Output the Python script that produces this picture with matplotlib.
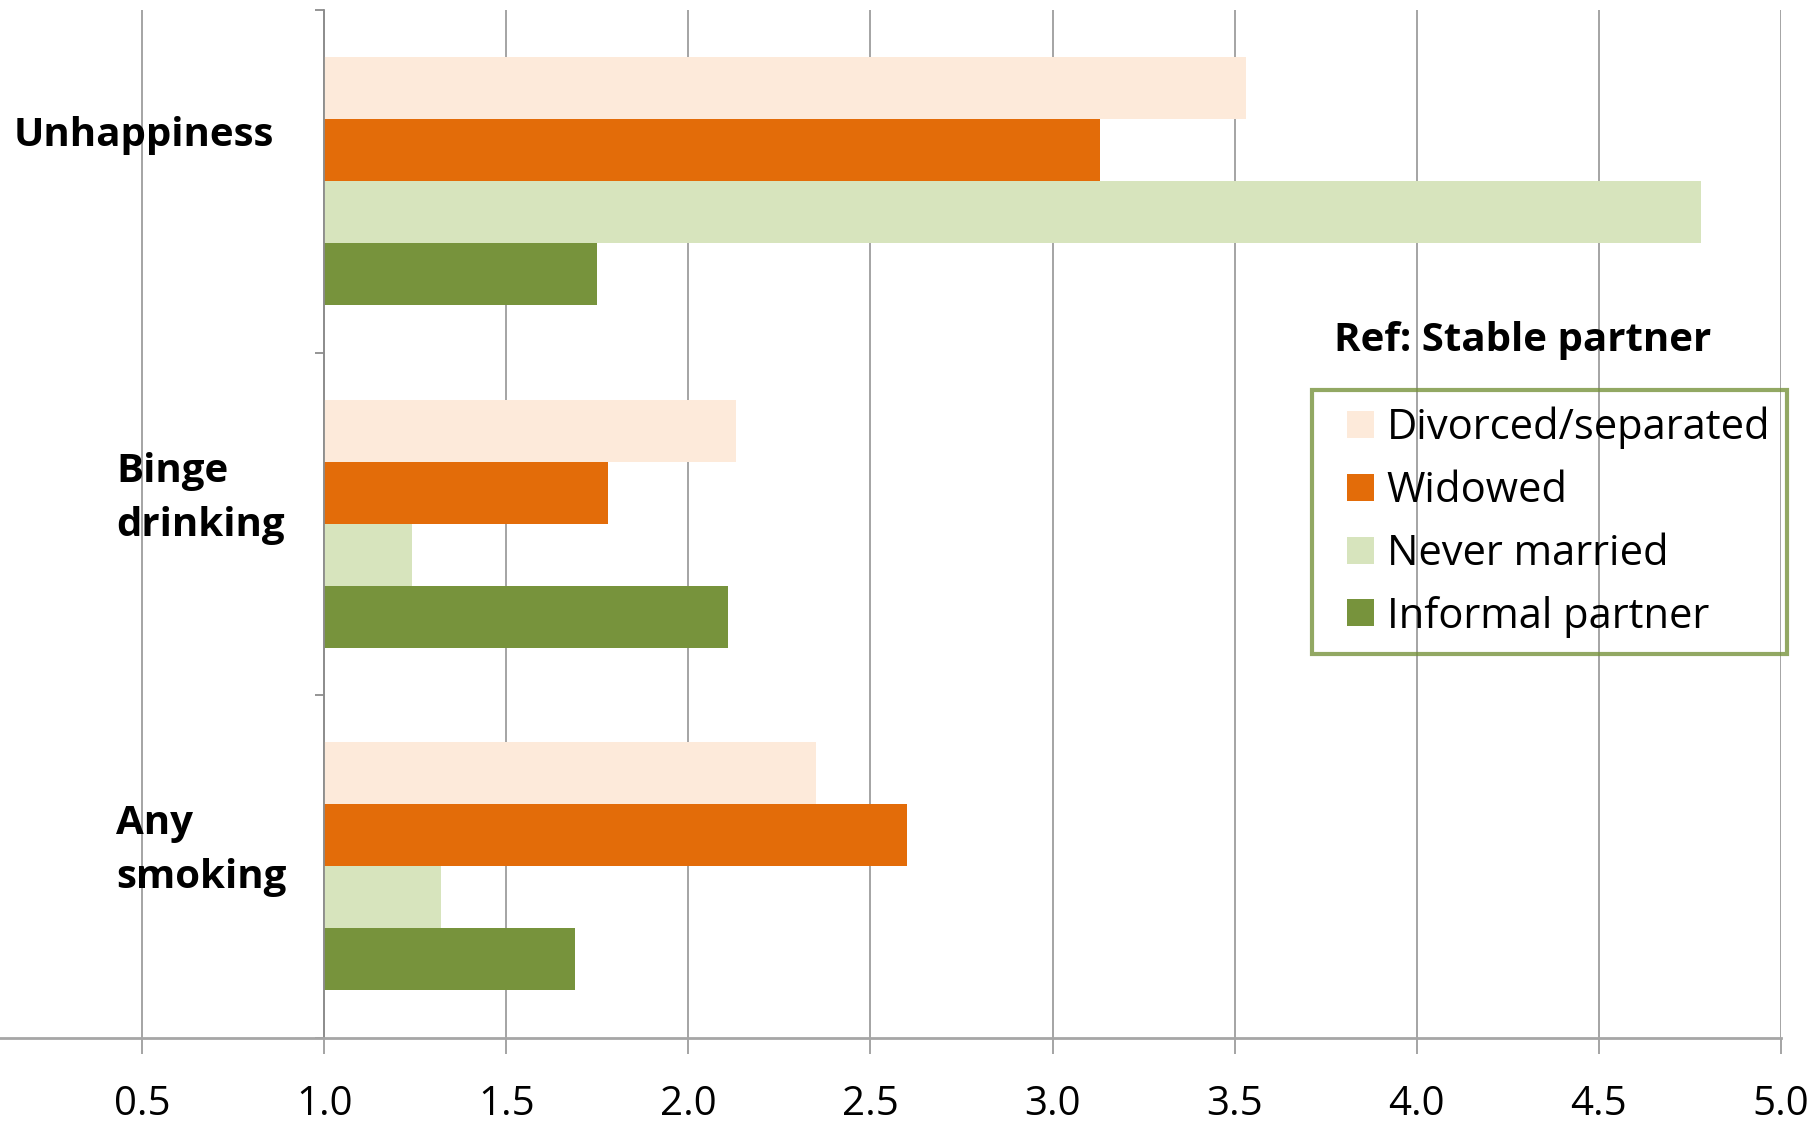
import numpy as np
import matplotlib
matplotlib.use('Agg')
import matplotlib.pyplot as plt
from matplotlib.patches import Patch, Rectangle
from matplotlib.legend_handler import HandlerPatch
import matplotlib.transforms as mtransforms

plt.rcParams['font.family'] = ['Open Sans', 'DejaVu Sans']

categories = ['Unhappiness', 'Binge\ndrinking', 'Any\nsmoking']
groups = ['Divorced/separated', 'Widowed', 'Never married', 'Informal partner']
colors = ['#FDEADA', '#E36C09', '#D7E4BD', '#77933C']

# odds ratios vs. stable partner (reference = 1)
divorced = [3.53, 2.13, 2.35]
widowed = [3.13, 1.78, 2.60]
never_married = [4.78, 1.24, 1.32]
informal = [1.75, 2.11, 1.69]
series = [divorced, widowed, never_married, informal]

xticks = [0.5, 1.0, 1.5, 2.0, 2.5, 3.0, 3.5, 4.0, 4.5, 5.0]

fig = plt.figure(figsize=(18.16, 11.24), dpi=100)
ax = fig.add_axes([0.0, 0.0769, 0.9807, 0.9141])

h = 0.181
y = np.arange(len(categories))
for k, (vals, c) in enumerate(zip(series, colors)):
    vals = np.array(vals)
    ax.barh(y + (k - 1.5) * h, vals - 1.0, height=h, left=1.0,
            color=c, label=groups[k], zorder=2)

ax.set_xlim(0.11, 5.0)
ax.set_ylim(2.5, -0.5)

ax.set_xticks(xticks)
ax.set_xticklabels(['%.1f' % t for t in xticks], fontsize=29)
ax.xaxis.grid(True, color='#8c8c8c', linewidth=1.1, zorder=0)
ax.set_axisbelow(True)
ax.tick_params(axis='x', length=11.5, width=1.1, color='#8c8c8c', pad=22)

ax.set_yticks([-0.5, 0.5, 1.5, 2.5])
ax.set_yticklabels([])
ax.tick_params(axis='y', length=6.5, width=1.3, color='#8c8c8c', direction='out')

for s in ['top', 'right']:
    ax.spines[s].set_visible(False)
ax.spines['left'].set_position(('data', 1.0))
ax.spines['left'].set_color('#8c8c8c')
ax.spines['left'].set_linewidth(1.3)
ax.spines['bottom'].set_color('#a6a6a6')
ax.spines['bottom'].set_linewidth(2.0)

# category labels placed at the left margin
trans = mtransforms.blended_transform_factory(fig.transFigure, ax.transData)
label_pos = [(14, -0.135), (116, 0.925), (116, 1.953)]
for lab, (px, py) in zip(categories, label_pos):
    ax.text(px / 1816, py, lab, transform=trans, ha='left', va='center',
            fontsize=29, fontweight='bold', linespacing=1.5)

fig.text(1334 / 1816, 1 - 340 / 1124, 'Ref: Stable partner', ha='left',
         va='center', fontsize=29, fontweight='bold')


def square_patch(legend, orig_handle, xdescent, ydescent, width, height, fontsize):
    # square key pushed to the right end of the handle box
    return Rectangle((-xdescent + width - height, -ydescent), height, height)


handles = [Patch(facecolor=c, edgecolor='none') for c in colors]
leg = ax.legend(handles, groups, loc='upper left',
                bbox_to_anchor=(1312 / 1816, 1 - 390 / 1124),
                bbox_transform=fig.transFigure, borderaxespad=0,
                fontsize=30, handlelength=1.09, handleheight=0.62,
                handletextpad=0.3, labelspacing=0.5, borderpad=0.4,
                fancybox=False, frameon=True,
                handler_map={Patch: HandlerPatch(patch_func=square_patch)})
frame = leg.get_frame()
frame.set_facecolor('none')
frame.set_edgecolor('#77933C')
frame.set_linewidth(3.0)

fig.savefig('out.png', dpi=100)
